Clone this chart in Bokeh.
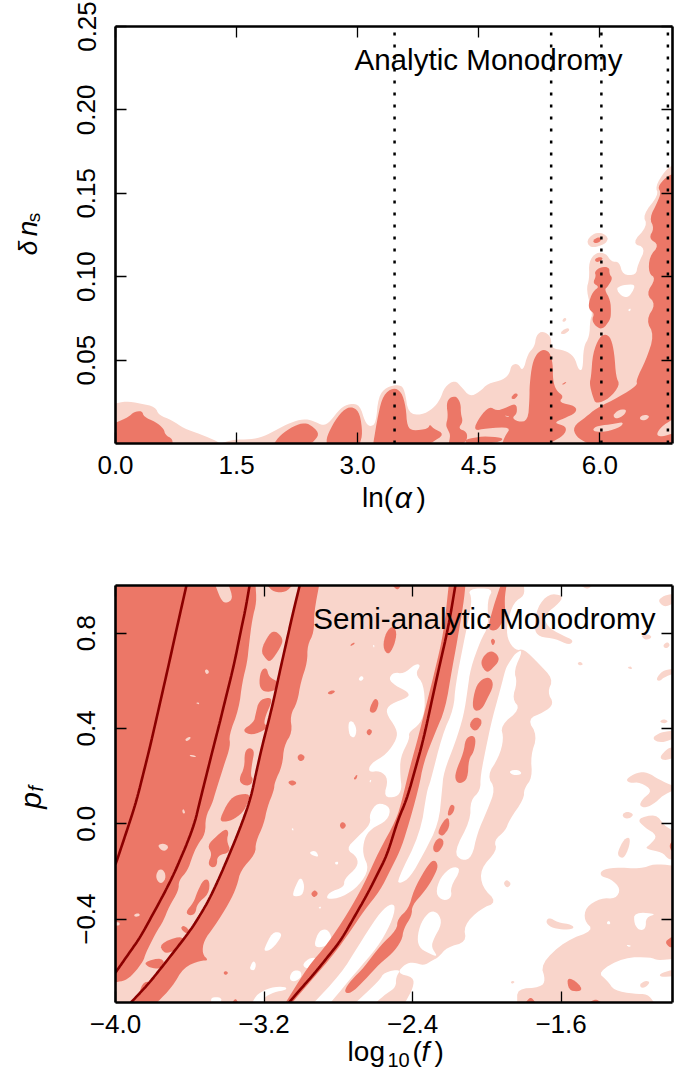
import math
from bokeh.embed import file_html
from bokeh.resources import INLINE
from bokeh.layouts import column
from bokeh.models import Range1d, LinearAxis, FixedTicker, Label
from bokeh.plotting import figure

LIGHT = "#f9d5cb"
DARK = "#ec7767"
LINE = "#8b0000"
FONT = "Liberation Sans"

# ---------- top panel: ln(alpha) vs delta n_s ----------
top_x_ticks = [0.0, 1.5, 3.0, 4.5, 6.0]
top_x_labels = ["0.0", "1.5", "3.0", "4.5", "6.0"]
top_y_ticks = [0.05, 0.10, 0.15, 0.20, 0.25]
top_y_labels = ["0.05", "0.10", "0.15", "0.20", "0.25"]
top_dotted = [3.457, 5.397, 6.019, 6.843]

top_light = [
 [(0,0),(0,.024),(.124,.0254),(.309,.024),(.494,.022),(.536,.017),(.70,.014),(.845,.009),(1.05,.0056),(1.277,.001),(1.277,0)],
 [(1.298,0),(1.463,.0024),(1.669,.0024),(1.833,.004),(1.998,.0084),(2.163,.0124),(2.328,.0148),(2.451,.0136),(2.575,.0106),(2.657,.013),(2.781,.021),(2.905,.024),(3.028,.023),(3.09,.013),(3.152,.01),(3.226,.012),(3.255,.028),(3.358,.034),(3.523,.0354),(3.584,.032),(3.626,.018),(3.79,.017),(3.935,.021),(4.017,.026),(4.079,.034),(4.202,.038),(4.285,.034),(4.388,.028),(4.511,.031),(4.614,.036),(4.8,.038),(4.882,.042),(4.903,.047),(4.985,.048),(5.047,.043),(5.109,.054),(5.191,.058),(5.212,.065),(5.294,.0676),(5.397,.064),(5.397,.057),(5.562,.056),(5.686,.052),(5.735,.044),(5.789,.044),(5.797,.058),(5.871,.064),(5.879,.074),(5.912,.078),(5.83,.092),(5.871,.099),(5.863,.109),(5.953,.1146),(6.077,.114),(6.139,.109),(6.242,.109),(6.283,.101),(6.448,.101),(6.468,.107),(6.571,.1174),(6.394,.12),(6.592,.1304),(6.53,.137),(6.728,.149),(6.687,.154),(6.798,.163),(6.9,.167),(6.9,0)],
 [(5.838,.1216),(5.912,.1256),(6.015,.1266),(6.106,.1236),(6.077,.12),(5.953,.1176),(5.871,.118)],
 [(5.529,.0734),(5.562,.0756),(5.591,.0746),(5.562,.0728)],
 [(5.5,.066),(5.583,.0694),(5.635,.0684),(5.562,.0654)],
]
top_white = [
 [(6.2,.093),(6.283,.095),(6.44,.0956),(6.407,.091),(6.345,.0874),(6.262,.0886)],
 [(6.345,.08),(6.386,.0812),(6.373,.079)],
]
top_dark = [
 [(0,0),(0,.0124),(.165,.016),(.227,.019),(.33,.0196),(.35,.016),(.494,.013),(.597,.009),(.618,.005),(.70,.003),(.709,0)],
 [(1.965,0),(2.039,.005),(2.204,.0104),(2.348,.0126),(2.451,.01),(2.526,.0056),(2.451,.001),(2.41,0)],
 [(2.616,0),(2.616,.004),(2.719,.014),(2.843,.021),(2.946,.022),(3.028,.018),(3.061,.006),(3.028,0)],
 [(3.193,0),(3.255,.018),(3.317,.029),(3.44,.0336),(3.543,.031),(3.597,.022),(3.613,.01),(3.687,.0076),(3.873,.0088),(3.893,.0116),(3.935,.009),(4.079,.0056),(3.914,.0004),(3.893,0)],
 [(4.099,.024),(4.141,.0276),(4.223,.0284),(4.277,.024),(4.277,.018),(4.305,.013),(4.244,.009),(4.355,.007),(4.355,.002),(4.305,0),(4.128,0),(4.149,.005),(4.12,.008),(4.091,.011),(4.12,.016)],
 [(4.429,.0076),(4.511,.016),(4.635,.0224),(4.717,.0196),(4.82,.021),(4.965,.0244),(4.977,.018),(4.911,.0154),(4.985,.013),(5.109,.0136),(5.129,.027),(5.129,.035),(5.162,.048),(5.22,.054),(5.294,.0564),(5.377,.055),(5.418,.048),(5.418,.038),(5.459,.0316),(5.554,.0284),(5.488,.0246),(5.706,.0224),(5.706,.0184),(5.554,.015),(5.426,.0124),(5.583,.0104),(5.574,.006),(5.459,.002),(5.356,0),(4.792,0),(4.82,.004),(4.903,.01),(4.594,.009)],
 [(4.326,.0024),(4.55,.0044),(4.79,.0036),(4.79,.0014),(4.63,0),(4.35,0)],
 [(4.895,.027),(4.944,.0304),(4.993,.0294),(4.944,.0264)],
 [(5.521,.0354),(5.595,.0374),(5.562,.0354)],
 [(5.912,.1216),(5.974,.1238),(6.028,.123),(5.995,.1206),(5.933,.12)],
 [(5.892,.04),(5.912,.054),(5.995,.064),(6.077,.0656),(6.139,.063),(6.18,.054),(6.2,.04),(6.25,.035),(6.118,.027),(5.953,.0236),(5.912,.028),(5.871,.036)],
 [(5.859,.084),(5.912,.091),(5.995,.094),(5.912,.096),(5.953,.1004),(5.933,.103),(6.015,.106),(6.118,.1056),(6.118,.1016),(6.159,.099),(6.098,.094),(6.056,.0924),(6.131,.086),(6.139,.078),(6.126,.074),(6.036,.0684),(5.953,.07),(5.9,.074),(5.933,.078),(5.871,.08)],
 [(5.933,.1104),(5.995,.112),(6.044,.111),(5.995,.109),(5.953,.1088)],
 [(6.9,.1616),(6.819,.1596),(6.716,.154),(6.757,.1504),(6.716,.145),(6.613,.135),(6.674,.129),(6.604,.123),(6.736,.119),(6.613,.112),(6.604,.102),(6.695,.099),(6.571,.0896),(6.695,.0836),(6.571,.074),(6.674,.065),(6.571,.05),(6.448,.038),(6.468,.035),(6.242,.028),(5.953,.021),(5.83,.016),(5.665,.01),(5.706,.004),(5.85,0),(6.9,0)],
]
top_light_over = [
 [(4.808,.0168),(4.882,.0164),(4.86,.0158)],
 [(6.159,.017),(6.242,.0204),(6.332,.0204),(6.304,.017),(6.2,.0146)],
 [(6.489,.0156),(6.551,.0174),(6.621,.0164),(6.571,.014),(6.51,.014)],
 [(5.912,.009),(5.995,.0108),(6.159,.0116),(6.295,.013),(6.262,.01),(6.077,.007),(5.933,.007)],
 [(6.695,.005),(6.757,.01),(6.9,.0144),(6.9,.006),(6.777,.004)],
]

# ---------- bottom panel: log10(f) vs p_f ----------
bot_x_ticks = [-4.0, -3.2, -2.4, -1.6]
bot_x_labels = ["\u22124.0", "\u22123.2", "\u22122.4", "\u22121.6"]
bot_y_ticks = [-0.4, 0.0, 0.4, 0.8]
bot_y_labels = ["\u22120.4", "0.0", "0.4", "0.8"]

bot_light = [
 [(-4,1),(-1.80,1),(-1.797,.958),(-1.855,.93),(-1.891,.846),(-1.891,.776),(-1.846,.727),(-1.80,.734),(-1.728,.678),(-1.642,.608),(-1.674,.552),(-1.638,.503),(-1.692,.468),(-1.782,.44),(-1.728,.37),(-1.764,.286),(-1.755,.195),(-1.80,.146),(-1.80,.105),(-1.88,.014),(-1.899,-.028),(-1.962,-.07),(-1.944,-.112),(-2.035,-.189),(-2.026,-.266),(-1.944,-.329),(-2.035,-.357),(-2.125,-.427),(-2.11,-.497),(-2.215,-.518),(-2.26,-.56),(-2.295,-.574),(-2.34,-.595),(-2.395,-.581),(-2.44,-.588),(-2.485,-.627),(-2.395,-.644),(-2.395,-.686),(-2.44,-.75),(-4,-.75)],
 [(-1.3865,-.196),(-1.3145,-.182),(-1.1705,-.189),(-1.0985,-.168),(-1,-.175),(-1,-.567),(-1.0805,-.574),(-1.1165,-.56),(-1.2605,-.56),(-1.4045,-.623),(-1.3505,-.658),(-1.3145,-.7),(-1.2065,-.714),(-1.1345,-.714),(-1.0985,-.75),(-1.8365,-.75),(-1.8365,-.693),(-1.7105,-.686),(-1.6835,-.658),(-1.7105,-.588),(-1.5755,-.49),(-1.4225,-.448),(-1.4765,-.406),(-1.4675,-.35),(-1.3865,-.311),(-1.3055,-.315),(-1.2785,-.273),(-1.3325,-.231),(-1.3865,-.221)],
 [(-1.192,.021),(-1.0895,.042),(-1.0445,-.007),(-1,-.028),(-1,-.151),(-1.0265,-.147),(-1.0535,-.119),(-1.1525,-.105),(-1.1165,-.084),(-1.0805,-.049),(-1.1525,-.014)],
 [(-1.2965,-.119),(-1.2605,-.063),(-1.2281,-.056),(-1.2335,-.098),(-1.2605,-.144),(-1.2875,-.14)],
 [(-1.2695,.042),(-1.2425,.052),(-1.2065,.039),(-1.2335,.021),(-1.2641,.025)],
 [(-1.2515,.188),(-1.1885,.216),(-1.1345,.216),(-1.0715,.185),(-1,.16),(-1,.139),(-1.0535,.118),(-1.0895,.09),(-1.1435,.066),(-1.1795,.076),(-1.1615,.104),(-1.1075,.139),(-1.1705,.174),(-1.2335,.171)],
 [(-1.0805,.937),(-1.0445,.958),(-1,.965),(-1,.923),(-1.0445,.909)],
 [(-1.0535,.748),(-1.0265,.765),(-1.0121,.748),(-1.0355,.734)],
 [(-1.0895,.608),(-1.0535,.643),(-1,.65),(-1,.629),(-1.0445,.615),(-1.0715,.597)],
 [(-1.0715,.43),(-1.0445,.44),(-1.0211,.429),(-1.0481,.42)],
 [(-1.1075,.363),(-1.0625,.384),(-1,.391),(-1,.356),(-1.0445,.342),(-1.0895,.345)],
 [(-1.0715,.279),(-1.0265,.317),(-1,.321),(-1,.275),(-1.0445,.265)],
 [(-1.1705,.79),(-1.1345,.797),(-1.1075,.783),(-1.1435,.769)],
 [(-1.5125,.675),(-1.4945,.681),(-1.4801,.667),(-1.5035,.664)],
 [(-1.2425,.657),(-1.2245,.661),(-1.2155,.65),(-1.2335,.65)],
 [(-1.4945,1),(-1.4315,1),(-1.4585,.983)],
 [(-1.5935,.959),(-1.6655,.966),(-1.7285,.91),(-1.7465,.819),(-1.7195,.784),(-1.6295,.777),(-1.5575,.749),(-1.5305,.77),(-1.5935,.791),(-1.6745,.826),(-1.6925,.875),(-1.6025,.931)],
 [(-1.0715,-.63),(-1,-.612),(-1,-.64),(-1.0625,-.644)],
 [(-1.176,-.672),(-1.1435,-.658),(-1.12,-.665),(-1.1435,-.686),(-1.1705,-.689)],
 [(-1.6835,-.413),(-1.6655,-.392),(-1.6205,-.413),(-1.5395,-.424),(-1.5305,-.441),(-1.5935,-.445),(-1.6565,-.434)],
 [(-1.8725,-.665),(-1.86,-.658),(-1.849,-.665),(-1.8635,-.672)],
 [(-1.9085,-.245),(-1.8905,-.234),(-1.8689,-.252),(-1.8869,-.269),(-1.9049,-.259)],
]
bot_white = [
 [(-2.5295,.608),(-2.5025,.636),(-2.4485,.629),(-2.3855,.671),(-2.355,.667),(-2.3855,.629),(-2.3405,.587),(-2.3315,.482),(-2.3585,.419),(-2.4215,.384),(-2.416,.356),(-2.4665,.279),(-2.4665,.202),(-2.4575,.146),(-2.4845,.111),(-2.5565,.111),(-2.5295,.188),(-2.5745,.223),(-2.6375,.216),(-2.6285,.251),(-2.5385,.293),(-2.4845,.356),(-2.4845,.398),(-2.5475,.468),(-2.5205,.503),(-2.4215,.531),(-2.4215,.552),(-2.4935,.58)],
 [(-2.103,.986),(-1.9625,.989),(-1.9985,.937),(-1.9895,.832),(-2.0345,.769),(-2.0885,.65),(-2.103,.566),(-2.1245,.454),(-2.1695,.342),(-2.2325,.216),(-2.2415,.14),(-2.2595,0),(-2.3405,-.126),(-2.4125,-.224),(-2.4665,-.252),(-2.4845,-.238),(-2.3585,-.042),(-2.3225,.14),(-2.3045,.174),(-2.2415,.37),(-2.1785,.482),(-2.1695,.58),(-2.1245,.762),(-2.0975,.86),(-2.0795,.944)],
 [(-1.8815,.675),(-1.8455,.717),(-1.804,.731),(-1.8545,.643),(-1.8365,.594),(-1.8635,.524),(-1.8185,.482),(-1.9265,.412),(-1.9085,.356),(-1.9355,.279),(-1.9985,.202),(-1.9535,.146),(-1.9985,.056),(-2.0525,-.042),(-2.0795,-.14),(-2.1335,-.157),(-2.1785,-.119),(-2.0885,.014),(-2.0885,.098),(-2.0345,.14),(-2.0345,.202),(-1.9985,.342),(-1.9715,.44),(-1.9265,.566),(-1.8995,.65)],
 [(-2.2775,-.294),(-2.2505,-.224),(-2.1875,-.179),(-2.137,-.189),(-2.1965,-.266),(-2.1875,-.308),(-2.2325,-.325)],
 [(-2.3765,-.483),(-2.355,-.413),(-2.3045,-.364),(-2.26,-.375),(-2.2415,-.42),(-2.2865,-.483),(-2.299,-.518),(-2.265,-.556),(-2.2955,-.55),(-2.3585,-.525)],
 [(-2.5885,.091),(-2.5165,.07),(-2.5345,.014),(-2.6245,-.021),(-2.6605,-.063),(-2.6695,-.126),(-2.6335,-.189),(-2.6875,-.259),(-2.7775,-.308),(-2.8675,-.319),(-2.8495,-.287),(-2.7685,-.266),(-2.7685,-.231),(-2.6965,-.182),(-2.6965,-.14),(-2.7595,-.105),(-2.6965,-.056),(-2.6245,0),(-2.6335,.042)],
 [(-2.9305,-.75),(-2.7865,-.63),(-2.6965,-.518),(-2.5885,-.385),(-2.5255,-.336),(-2.4895,-.343),(-2.5165,-.42),(-2.5885,-.518),(-2.7055,-.623),(-2.8405,-.75)],
 [(-2.7055,-.75),(-2.5795,-.658),(-2.5525,-.623),(-2.4625,-.61),(-2.4895,-.644),(-2.4895,-.686),(-2.5435,-.714),(-2.5975,-.75)],
 [(-3.2635,-.75),(-3.2365,-.714),(-3.1645,-.686),(-3.0835,-.683),(-3.078,-.697),(-3.1465,-.707),(-3.2005,-.728),(-3.2005,-.75)],
 [(-3.485,-.75),(-3.485,-.728),(-3.431,-.728),(-3.431,-.75)],
 [(-3.2005,-.525),(-3.1555,-.455),(-3.1105,-.455),(-3.107,-.476),(-3.1555,-.525),(-3.1915,-.535)],
 [(-2.9305,-.504),(-2.9035,-.448),(-2.8585,-.441),(-2.8315,-.483),(-2.8585,-.511),(-2.9125,-.521)],
 [(-2.9935,-.588),(-2.9485,-.56),(-2.9035,-.567),(-2.9305,-.602),(-2.9755,-.609)],
 [(-3.0655,-.651),(-3.0475,-.616),(-3.0025,-.616),(-2.997,-.644),(-3.0385,-.665)],
 [(-3.276,-.602),(-3.258,-.574),(-3.242,-.588),(-3.251,-.616),(-3.2725,-.613)],
 [(-3.0475,-.301),(-3.0295,-.259),(-3.0025,-.221),(-2.9809,-.259),(-2.9935,-.301),(-3.0295,-.305)],
 [(-2.9575,-.119),(-2.9215,-.112),(-2.9035,-.14),(-2.9395,-.133)],
 [(-2.819,-.161),(-2.801,-.158),(-2.801,-.171),(-2.815,-.171)],
 [(-2.909,-.353),(-2.894,-.346),(-2.894,-.357)],
 [(-3.053,-.021),(-3.042,-.018),(-3.042,-.031)],
 [(-2.693,.608),(-2.675,.622),(-2.661,.611),(-2.679,.597)],
 [(-2.747,.426),(-2.7235,.433),(-2.7,.398),(-2.711,.359),(-2.7415,.37)],
 [(-2.615,.748),(-2.606,.752),(-2.606,.737)],
 [(-2.633,.181),(-2.621,.185),(-2.628,.171)],
 [(-1.2065,-.371),(-1.0805,-.378),(-1.1435,-.392),(-1.1435,-.441),(-1.1795,-.448),(-1.2065,-.42)],
 [(-1.354,-.413),(-1.3415,-.406),(-1.3325,-.42),(-1.3505,-.423)],
 [(-1.2515,-.508),(-1.2209,-.511),(-1.2335,-.518)],
 [(-1.883,.222),(-1.83,.228),(-1.808,.208),(-1.86,.203)],
]
bot_dark = [
 [(-4,1),(-3.2455,1),(-3.24,.93),(-3.2635,.86),(-3.2815,.748),(-3.2905,.678),(-3.3175,.594),(-3.3355,.482),(-3.3895,.37),(-3.3805,.328),(-3.4165,.244),(-3.4615,.132),(-3.4795,.084),(-3.5155,.028),(-3.5155,-.042),(-3.5605,-.091),(-3.5875,-.14),(-3.611,-.196),(-3.6595,-.238),(-3.6595,-.28),(-3.7135,-.35),(-3.7405,-.406),(-3.7855,-.462),(-3.8395,-.546),(-3.8485,-.574),(-3.9025,-.63),(-3.9475,-.658),(-4,-.665)],
 [(-3.0115,1),(-2.9035,1),(-2.9305,.888),(-2.9305,.804),(-2.9665,.748),(-2.9665,.678),(-3.0025,.594),(-3.0205,.51),(-3.06,.454),(-3.0475,.384),(-3.0925,.328),(-3.1015,.244),(-3.143,.174),(-3.1465,.14),(-3.1825,.07),(-3.2005,0),(-3.2455,-.077),(-3.2455,-.126),(-3.3265,-.196),(-3.3445,-.259),(-3.3895,-.336),(-3.4705,-.434),(-3.5245,-.49),(-3.5335,-.546),(-3.4975,-.574),(-3.5425,-.574),(-3.6325,-.602),(-3.6955,-.686),(-3.7765,-.75),(-3.917,-.75),(-3.8305,-.679),(-3.7225,-.574),(-3.5965,-.448),(-3.4885,-.308),(-3.4075,-.168),(-3.3265,-.014),(-3.2545,.14),(-3.2095,.328),(-3.1465,.524),(-3.0835,.748)],
 [(-3.1825,1),(-3.0475,1),(-3.0835,.972),(-3.1465,.972)],
 [(-3.2185,.727),(-3.1735,.797),(-3.1375,.811),(-3.096,.776),(-3.1105,.741),(-3.1645,.678),(-3.1915,.692)],
 [(-3.2275,.58),(-3.2185,.643),(-3.186,.657),(-3.1735,.615),(-3.1195,.594),(-3.1375,.559),(-3.2005,.552)],
 [(-3.2455,.461),(-3.2275,.517),(-3.1735,.531),(-3.1555,.517),(-3.1915,.454),(-3.2005,.419),(-3.1825,.412),(-3.186,.398),(-3.2635,.37),(-3.321,.391),(-3.2545,.426)],
 [(-3.3355,.188),(-3.305,.237),(-3.305,.3),(-3.2815,.321),(-3.251,.307),(-3.2635,.258),(-3.2725,.202),(-3.258,.188),(-3.2725,.16),(-3.3175,.163)],
 [(-3.438,.021),(-3.3895,.098),(-3.3445,.123),(-3.2725,.126),(-3.2905,.084),(-3.312,.049),(-3.3715,.014),(-3.4255,.007)],
 [(-3.5065,-.091),(-3.4525,-.049),(-3.4075,-.021),(-3.3895,-.035),(-3.402,-.07),(-3.3769,-.119),(-3.4525,-.133),(-3.4525,-.175),(-3.4795,-.185),(-3.503,-.168),(-3.4795,-.126)],
 [(-3.6235,-.371),(-3.5785,-.329),(-3.5605,-.287),(-3.5245,-.231),(-3.492,-.238),(-3.4975,-.294),(-3.5605,-.336),(-3.5695,-.378),(-3.6,-.386)],
 [(-3.6505,-.441),(-3.6325,-.424),(-3.593,-.455),(-3.611,-.465)],
 [(-3.764,-.504),(-3.6505,-.469),(-3.6235,-.497),(-3.6955,-.539),(-3.7405,-.543)],
 [(-3.8485,-.581),(-3.746,-.56),(-3.735,-.602),(-3.7765,-.609),(-3.8215,-.602)],
 [(-3.8755,-.714),(-3.8485,-.661),(-3.7945,-.665),(-3.8485,-.714)],
 [(-2.5615,.741),(-2.5435,.804),(-2.5075,.832),(-2.484,.804),(-2.4985,.748),(-2.5309,.706)],
 [(-2.6335,.482),(-2.6029,.531),(-2.5795,.51),(-2.5975,.468),(-2.6245,.465)],
 [(-2.6515,.384),(-2.6335,.401),(-2.6155,.387),(-2.6335,.367)],
 [(-2.736,.751),(-2.7145,.762),(-2.711,.755),(-2.7325,.745)],
 [(-2.862,.549),(-2.8315,.562),(-2.8135,.555),(-2.8405,.541)],
 [(-3.024,.279),(-3.0025,.296),(-2.9755,.279),(-3.0025,.258)],
 [(-3.0745,.174),(-3.0475,.185),(-3.0205,.171),(-3.0475,.157)],
 [(-2.718,.191),(-2.6965,.209),(-2.70,.191),(-2.711,.184)],
 [(-2.5075,1),(-2.4625,1),(-2.48,.979)],
 [(-2.7955,-.007),(-2.7775,.011),(-2.754,-.007),(-2.7775,-.025)],
 [(-2.9485,-.294),(-2.927,-.276),(-2.907,-.294),(-2.9305,-.311)],
 [(-3.42,-.626),(-3.4075,-.616),(-3.391,-.626),(-3.4075,-.636)],
 [(-3.3715,-.75),(-3.3535,-.732),(-3.339,-.75)],
 [(-2.2055,1),(-2.1155,1),(-2.1245,.93),(-2.1605,.762),(-2.1875,.65),(-2.2235,.482),(-2.2775,.384),(-2.3405,.258),(-2.3675,.146),(-2.4305,-.028),(-2.4665,-.112),(-2.5205,-.196),(-2.5745,-.28),(-2.6605,-.364),(-2.7325,-.448),(-2.8225,-.546),(-2.9305,-.644),(-3.0475,-.75),(-3.0835,-.75),(-2.9665,-.602),(-2.8585,-.504),(-2.7505,-.378),(-2.6605,-.252),(-2.5795,-.112),(-2.4895,.014),(-2.4575,.097),(-2.4125,.244),(-2.3675,.37),(-2.3225,.51),(-2.2775,.65),(-2.2325,.804)],
 [(-1.9805,.769),(-1.966,.779),(-1.9535,.765),(-1.968,.745)],
 [(-2.0345,.671),(-2.0165,.706),(-1.9805,.727),(-1.9445,.713),(-1.9319,.685),(-1.9715,.65),(-2.002,.633)],
 [(-2.0615,.573),(-2.0255,.608),(-1.9805,.615),(-1.9625,.58),(-1.9985,.524),(-2.0255,.482),(-2.0615,.471),(-2.0795,.496)],
 [(-2.0975,.412),(-2.0705,.447),(-2.0345,.443),(-2.0255,.419),(-2.0615,.384)],
 [(-2.1695,.216),(-2.1245,.3),(-2.1155,.356),(-2.0795,.373),(-2.058,.356),(-2.0705,.3),(-2.0975,.272),(-2.103,.188),(-2.1425,.167),(-2.1695,.181)],
 [(-1.9949,.825),(-1.9625,.916),(-1.9445,.958),(-1.9265,1),(-1.8941,1),(-1.9049,.944),(-1.8995,.874),(-1.9355,.818),(-1.9715,.808)],
 [(-2.2145,.035),(-2.1965,.081),(-2.1749,.077),(-2.1749,.056),(-2.1929,.035)],
 [(-2.2649,-.035),(-2.2325,.014),(-2.2055,.028),(-2.2001,-.014),(-2.2325,-.049),(-2.2505,-.049)],
 [(-2.2955,-.105),(-2.2685,-.06),(-2.2361,-.063),(-2.2325,-.091),(-2.2685,-.126)],
 [(-2.5745,-.511),(-2.4845,-.445),(-2.481,-.399),(-2.4215,-.357),(-2.3945,-.28),(-2.3315,-.189),(-2.2865,-.147),(-2.2595,-.175),(-2.2865,-.224),(-2.3315,-.28),(-2.4035,-.343),(-2.4035,-.385),(-2.4485,-.441),(-2.4575,-.49),(-2.5115,-.546),(-2.5745,-.585),(-2.6605,-.658),(-2.7145,-.7),(-2.7505,-.714),(-2.7685,-.7),(-2.7325,-.658),(-2.6605,-.602)],
 [(-1.5665,-.644),(-1.5125,-.665),(-1.4819,-.7),(-1.5395,-.704),(-1.5629,-.686)],
 [(-1.7915,-.75),(-1.7645,-.725),(-1.7375,-.75)],
 [(-1.4495,-.75),(-1.4135,-.735),(-1.3829,-.75)],
 [(-1.0409,-.497),(-1.0085,-.476),(-1,-.476),(-1,-.518),(-1.0175,-.518)],
 [(-1.0175,-.091),(-1,-.07),(-1,-.112),(-1.0085,-.112)],
]
bot_light_over = [
 [(-3.4615,1),(-3.3895,1),(-3.366,.944),(-3.4075,.923),(-3.4345,.944)],
 [(-3.521,.643),(-3.5065,.65),(-3.494,.636),(-3.51,.626)],
 [(-3.5695,.507),(-3.5515,.51),(-3.548,.5)],
 [(-3.6265,.356),(-3.5965,.367),(-3.5965,.356),(-3.618,.345)],
 [(-3.602,.29),(-3.5695,.286),(-3.566,.279),(-3.5965,.282)],
 [(-3.7765,-.091),(-3.7405,-.081),(-3.71,-.098),(-3.7405,-.119)],
 [(-3.7855,-.224),(-3.7675,-.189),(-3.737,-.196),(-3.728,-.231),(-3.7585,-.255)],
 [(-3.6415,.056),(-3.6325,.063),(-3.6235,.045),(-3.636,.042)],
 [(-3.9025,-.381),(-3.8755,-.374),(-3.8665,-.385),(-3.8935,-.392)],
 [(-4,-.413),(-3.978,-.413),(-3.978,-.427),(-4,-.427)],
]
curve_1 = [(-3.618,1),(-3.6505,.888),(-3.6865,.762),(-3.7225,.636),(-3.7675,.482),(-3.8125,.328),(-3.8485,.216),(-3.8845,.104),(-3.9205,.014),(-3.9925,-.154),(-4,-.17)]
curve_2 = [(-3.278,1),(-3.2995,.902),(-3.3265,.804),(-3.3625,.664),(-3.4075,.524),(-3.438,.426),(-3.4705,.328),(-3.5065,.216),(-3.5425,.104),(-3.5785,-.014),(-3.6685,-.182),(-3.7135,-.255),(-3.7585,-.322),(-3.8125,-.399),(-3.8665,-.476),(-3.9295,-.546),(-3.9925,-.616),(-4,-.625)]
curve_3 = [(-3.008,1),(-3.0475,.874),(-3.0835,.748),(-3.116,.636),(-3.1465,.524),(-3.177,.426),(-3.2095,.328),(-3.2419,.216),(-3.2725,.104),(-3.3265,-.014),(-3.4075,-.168),(-3.4885,-.308),(-3.5425,-.381),(-3.5965,-.448),(-3.7225,-.574),(-3.7765,-.627),(-3.8305,-.679),(-3.917,-.75)]
curve_4 = [(-2.1695,1),(-2.2055,.832),(-2.2505,.678),(-2.2865,.552),(-2.3405,.356),(-2.3855,.23),(-2.4305,.104),(-2.4805,.014),(-2.5345,-.126),(-2.5885,-.21),(-2.6425,-.294),(-2.7145,-.392),(-2.7865,-.49),(-2.8585,-.56),(-2.9305,-.63),(-3.0025,-.693),(-3.0655,-.75)]


def rounded(poly, xr, yr, n=2):
    """Round an outline's corners for drawing; vertices on the frame stay put."""
    def on_edge(pt):
        return pt[0] <= xr[0] or pt[0] >= xr[1] or pt[1] <= yr[0] or pt[1] >= yr[1]
    pts = list(poly)
    for _ in range(n):
        out = []
        m = len(pts)
        for i in range(m):
            a, b = pts[i], pts[(i + 1) % m]
            if on_edge(a):
                out.append(a)
            else:
                out.append((0.25 * b[0] + 0.75 * a[0], 0.25 * b[1] + 0.75 * a[1]))
            if on_edge(b):
                if not on_edge(a):
                    out.append((0.75 * b[0] + 0.25 * a[0], 0.75 * b[1] + 0.25 * a[1]))
            else:
                out.append((0.75 * b[0] + 0.25 * a[0], 0.75 * b[1] + 0.25 * a[1]))
        pts = out
    return pts


def rounded_line(pts, n=3):
    for _ in range(n):
        out = [pts[0]]
        for a, b in zip(pts[:-1], pts[1:]):
            out.append((0.75 * a[0] + 0.25 * b[0], 0.75 * a[1] + 0.25 * b[1]))
            out.append((0.25 * a[0] + 0.75 * b[0], 0.25 * a[1] + 0.75 * b[1]))
        out.append(pts[-1])
        pts = out
    return pts


def fill(p, polys, color, xr, yr):
    xs, ys = [], []
    for poly in polys:
        pts = rounded(poly, xr, yr)
        xs.append([q[0] for q in pts])
        ys.append([q[1] for q in pts])
    p.patches(xs, ys, fill_color=color, line_color=None)


def panel(height, border_top, border_bottom, xr, yr, xt, xl, yt, yl):
    p = figure(width=705, height=height, output_backend="svg", toolbar_location=None,
               x_range=Range1d(*xr), y_range=Range1d(*yr),
               min_border_left=130, min_border_right=18,
               min_border_top=border_top, min_border_bottom=border_bottom,
               x_axis_type=None, y_axis_type=None, background_fill_color="white",
               outline_line_color=None)
    p.grid.visible = False
    common = dict(axis_line_color="black", axis_line_width=2.6, major_tick_line_color="black",
                  major_tick_line_width=1.3, major_tick_in=11, major_tick_out=0, minor_tick_in=0,
                  minor_tick_out=0, major_label_text_font=FONT, major_label_text_color="black")
    below = LinearAxis(ticker=FixedTicker(ticks=xt), major_label_overrides=dict(zip(xt, xl)),
                       major_label_text_font_size="26px", major_label_standoff=12, **common)
    left = LinearAxis(ticker=FixedTicker(ticks=yt), major_label_overrides=dict(zip(yt, yl)),
                      major_label_text_font_size="26px", major_label_standoff=20,
                      major_label_orientation="parallel", **common)
    blank_x = {t: "" for t in xt}
    blank_y = {t: "" for t in yt}
    above = LinearAxis(ticker=FixedTicker(ticks=xt), major_label_overrides=blank_x,
                       major_label_standoff=0, **common)
    right = LinearAxis(ticker=FixedTicker(ticks=yt), major_label_overrides=blank_y,
                       major_label_standoff=0, **common)
    p.add_layout(below, "below")
    p.add_layout(left, "left")
    p.add_layout(above, "above")
    p.add_layout(right, "right")
    return p


def text(p, x, y, s, size, style="normal", angle=0, align="left", baseline="alphabetic", side="center"):
    lab = Label(x=x, y=y, text=s, text_font=FONT, text_font_size=f"{size}px",
                text_font_style=style, text_color="black", angle=angle,
                text_align=align, text_baseline=baseline)
    p.add_layout(lab, side)


# top panel
xr1, yr1 = (0, 6.9), (0, 0.25)
p1 = panel(573, 26, 130, xr1, yr1, top_x_ticks, top_x_labels, top_y_ticks, top_y_labels)
fill(p1, top_light, LIGHT, xr1, yr1)
fill(p1, top_white, "white", xr1, yr1)
fill(p1, top_dark, DARK, xr1, yr1)
fill(p1, top_light_over, LIGHT, xr1, yr1)
for xv in top_dotted:
    p1.line([xv, xv], [0, 0.25], line_color="black", line_width=2.5, line_dash="3 9")
text(p1, 4.62, 0.23, "Analytic Monodromy", 29.6, align="center", baseline="middle")
text(p1, 3.053, -0.0324, "ln(", 28, side="below")
text(p1, 3.46, -0.0324, "\u03b1", 30, style="italic", side="below")
text(p1, 3.73, -0.0324, ")", 28, side="below")
text(p1, -1.09, 0.1128, "\u03b4", 26, style="italic", angle=math.pi / 2, side="left")
text(p1, -1.09, 0.1242, "n", 28, style="italic", angle=math.pi / 2, side="left")
text(p1, -1.015, 0.1326, "s", 19, angle=math.pi / 2, side="left")

# bottom panel
xr2, yr2 = (-4, -1), (-0.75, 1)
p2 = panel(605, 12, 176, xr2, yr2, bot_x_ticks, bot_x_labels, bot_y_ticks, bot_y_labels)
fill(p2, bot_light, LIGHT, xr2, yr2)
fill(p2, bot_white, "white", xr2, yr2)
fill(p2, bot_dark, DARK, xr2, yr2)
fill(p2, bot_light_over, LIGHT, xr2, yr2)
for c in (curve_1, curve_2, curve_3, curve_4):
    c2 = rounded_line(c)
    p2.line([q[0] for q in c2], [q[1] for q in c2], line_color=LINE, line_width=2.6)
text(p2, -2.013, 0.861, "Semi-analytic Monodromy", 29.6, align="center", baseline="middle")
text(p2, -2.75, -0.957, "log", 28, side="below")
text(p2, -2.535, -0.99, "10", 20, side="below")
text(p2, -2.40, -0.957, "(", 28, side="below")
text(p2, -2.352, -0.957, "f", 28, style="italic", side="below")
text(p2, -2.282, -0.957, ")", 28, side="below")
text(p2, -4.458, 0.063, "p", 30, style="italic", angle=math.pi / 2, side="left")
text(p2, -4.426, 0.135, "f", 20, style="italic", angle=math.pi / 2, side="left")

layout = column(p1, p2, spacing=0, margin=(0, 0, 0, -15))
html = file_html(layout, INLINE)
html = html.replace("</head>", "<style>html,body{overflow:hidden}</style></head>", 1)
open("out.html", "w").write(html)
